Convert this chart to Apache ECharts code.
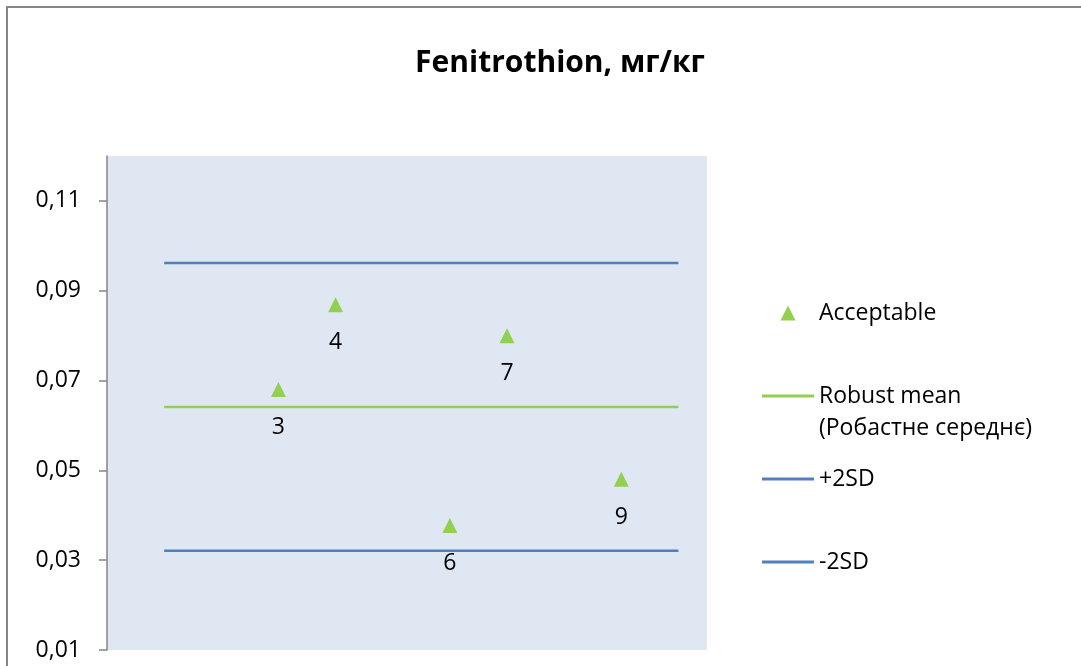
<!DOCTYPE html>
<html>
<head>
<meta charset="utf-8">
<script src="https://cdn.jsdelivr.net/npm/echarts@6/dist/echarts.min.js"></script>
<style>
  html, body { margin: 0; padding: 0; background: #fff; }
  #main { width: 1081px; height: 666px; }
</style>
</head>
<body>
<div id="main"></div>
<script>
    // lab codes (x) and results (y)
    let labs = [3, 4, 6, 7, 9];
    let results = [0.068, 0.0869, 0.0377, 0.080, 0.048];

    // reference lines run from lab 1 to lab 10
    let lineX = [1, 10];
    let robustMean = 0.0641;
    let plus2SD = 0.0962;
    let minus2SD = 0.0321;

    let yTicks = [0.01, 0.03, 0.05, 0.07, 0.09, 0.11];

    let font = 'Open Sans';

    function pairs(xs, ys) {
        return xs.map((x, i) => [x, ys[i]]);
    }

    function flat(v) {
        return lineX.map(x => [x, v]);
    }

    var myChart = echarts.init(document.getElementById('main'));

    function legendItem(name, top, extra) {
        return Object.assign({
            data: [name],
            orient: 'vertical',
            left: 762,
            top: top,
            padding: 0,
            itemWidth: 52,
            itemHeight: 3,
            icon: 'rect',
            selectedMode: false,
            textStyle: {
                fontFamily: font,
                fontSize: 23,
                color: '#000',
                lineHeight: 32
            }
        }, extra || {});
    }

    // 15px triangle in the middle of a 52px wide legend slot
    let triangleIcon = 'path://M0,0M18.5,15L26,0L33.5,15ZM52,15';

    var option = {
        animation: false,
        title: {
            text: 'Fenitrothion, мг/кг',
            left: 560,
            top: 48,
            padding: 0,
            textAlign: 'center',
            textStyle: {
                fontFamily: font,
                fontSize: 30,
                fontWeight: 'bold',
                color: '#000'
            }
        },
        graphic: [{
            type: 'rect',
            shape: { x: 7, y: 7, width: 2000, height: 2000 },
            style: { fill: null, stroke: '#868686', lineWidth: 2 },
            silent: true
        }],
        legend: [
            legendItem('Acceptable', 297, { icon: triangleIcon, itemHeight: 15 }),
            // blank first line so the line icon sits beside "Robust mean"
            legendItem('Robust mean', 348, { formatter: () => ' \nRobust mean\n(Робастне середнє)' }),
            legendItem('+2SD', 463),
            legendItem('-2SD', 546)
        ],
        grid: {
            left: 107,
            top: 156,
            right: 374,
            bottom: 16,
            show: true,
            backgroundColor: '#dfe7f3',
            borderWidth: 0
        },
        xAxis: {
            type: 'value',
            min: 0,
            max: 10.5,
            show: false
        },
        yAxis: {
            type: 'value',
            min: 0.01,
            max: 0.12,
            interval: 0.02,
            axisLine: { show: true, lineStyle: { color: '#868686', width: 1.5 } },
            axisTick: { show: true, length: 8, customValues: yTicks, lineStyle: { color: '#868686', width: 1.5 } },
            axisLabel: {
                customValues: yTicks,
                margin: 26,
                fontFamily: font,
                fontSize: 23,
                color: '#000',
                formatter: v => v.toFixed(2).replace('.', ',')
            },
            splitLine: { show: false }
        },
        series: [
            {
                name: 'Acceptable',
                type: 'scatter',
                symbol: 'triangle',
                symbolSize: 15,
                itemStyle: { color: '#92d050', opacity: 1 },
                label: {
                    show: true,
                    position: 'bottom',
                    distance: 19,
                    fontFamily: font,
                    fontSize: 23,
                    color: '#000',
                    formatter: p => String(p.value[0])
                },
                data: pairs(labs, results),
                z: 5
            },
            {
                name: 'Robust mean',
                type: 'line',
                symbol: 'none',
                lineStyle: { color: '#92d050', width: 2.5 },
                itemStyle: { color: '#92d050' },
                data: flat(robustMean)
            },
            {
                name: '+2SD',
                type: 'line',
                symbol: 'none',
                lineStyle: { color: '#4f81bd', width: 2.5 },
                itemStyle: { color: '#4f81bd' },
                data: flat(plus2SD)
            },
            {
                name: '-2SD',
                type: 'line',
                symbol: 'none',
                lineStyle: { color: '#4f81bd', width: 2.5 },
                itemStyle: { color: '#4f81bd' },
                data: flat(minus2SD)
            }
        ]
    };

    myChart.setOption(option);
</script>
</body>
</html>
